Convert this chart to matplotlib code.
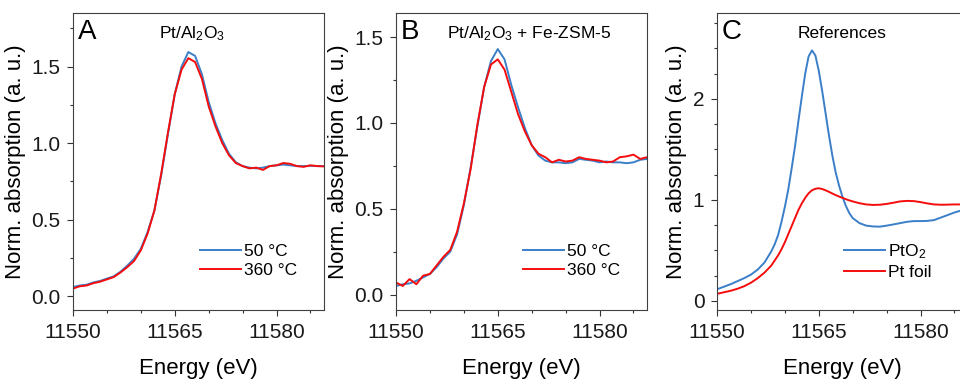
import numpy as np
import matplotlib.pyplot as plt
from matplotlib.ticker import MultipleLocator

plt.rcParams['font.family'] = ['Liberation Sans', 'DejaVu Sans']
plt.rcParams['mathtext.default'] = 'regular'

# energies (eV)
energy_ab = list(range(11550, 11588))
energy_c = list(range(11550, 11558)) + list(np.arange(11558, 11570, 0.5)) + list(range(11570, 11588))

# panel A: Pt/Al2O3
a_50 = [0.06, 0.07, 0.075, 0.09, 0.10, 0.115, 0.13, 0.16, 0.20, 0.245,
        0.31, 0.42, 0.56, 0.79, 1.06, 1.32, 1.50, 1.595, 1.57, 1.45,
        1.27, 1.13, 1.02, 0.93, 0.875, 0.85, 0.84, 0.835, 0.84, 0.85,
        0.855, 0.86, 0.855, 0.85, 0.85, 0.852, 0.85, 0.85]
a_360 = [0.05, 0.065, 0.07, 0.085, 0.095, 0.11, 0.125, 0.155, 0.19, 0.23,
         0.30, 0.41, 0.56, 0.80, 1.07, 1.32, 1.48, 1.555, 1.53, 1.42,
         1.24, 1.11, 1.00, 0.92, 0.87, 0.85, 0.835, 0.84, 0.825, 0.85,
         0.855, 0.87, 0.865, 0.85, 0.845, 0.855, 0.85, 0.848]

# panel B: Pt/Al2O3 + Fe-ZSM-5
b_50 = [0.05, 0.06, 0.065, 0.08, 0.10, 0.12, 0.16, 0.21, 0.25, 0.35,
        0.52, 0.74, 0.98, 1.21, 1.36, 1.43, 1.37, 1.22, 1.09, 0.97,
        0.87, 0.81, 0.78, 0.77, 0.77, 0.765, 0.77, 0.79, 0.785, 0.78,
        0.77, 0.775, 0.77, 0.77, 0.765, 0.77, 0.785, 0.79]
b_360 = [0.07, 0.05, 0.09, 0.06, 0.11, 0.12, 0.17, 0.22, 0.26, 0.365,
         0.53, 0.73, 0.99, 1.21, 1.34, 1.37, 1.31, 1.18, 1.05, 0.95,
         0.87, 0.82, 0.80, 0.77, 0.785, 0.775, 0.78, 0.80, 0.79, 0.785,
         0.78, 0.77, 0.775, 0.80, 0.805, 0.815, 0.79, 0.80]

# panel C: references
pto2 = [0.115, 0.14, 0.165, 0.195, 0.225, 0.26, 0.31, 0.38,
        0.49, 0.56, 0.65, 0.78, 0.93, 1.10, 1.31, 1.53, 1.78, 2.02, 2.25, 2.42,
        2.48, 2.43, 2.28, 2.08, 1.86, 1.64, 1.44, 1.27, 1.14, 1.03, 0.94, 0.87,
        0.82, 0.77, 0.745, 0.737, 0.735, 0.745, 0.757, 0.77, 0.783, 0.79,
        0.79, 0.792, 0.80, 0.825, 0.85, 0.875, 0.895, 0.91]
pt_foil = [0.07, 0.085, 0.10, 0.12, 0.145, 0.18, 0.225, 0.28,
           0.35, 0.40, 0.45, 0.51, 0.58, 0.66, 0.74, 0.82, 0.90, 0.965, 1.02, 1.065,
           1.095, 1.11, 1.115, 1.108, 1.095, 1.08, 1.063, 1.047, 1.033, 1.02, 1.007, 0.995,
           0.985, 0.967, 0.955, 0.95, 0.952, 0.96, 0.972, 0.985, 0.99, 0.988,
           0.978, 0.965, 0.955, 0.952, 0.953, 0.955, 0.955, 0.955]

blue = '#3a7fc8'
red = '#f50d0d'

panels = [
    ('A', 'Pt/Al$_2$O$_3$', 0.476, energy_ab, a_50, a_360, ['50 °C', '360 °C'], (-0.09, 1.85), 0.5, 0.25, '%.1f'),
    ('B', 'Pt/Al$_2$O$_3$ + Fe-ZSM-5', 0.53, energy_ab, b_50, b_360, ['50 °C', '360 °C'], (-0.09, 1.64), 0.5, 0.25, '%.1f'),
    ('C', 'References', 0.50, energy_c, pto2, pt_foil, ['PtO$_2$', 'Pt foil'], (-0.09, 2.85), 1, 0.25, '%d'),
]
lefts = [73, 396, 717]

fig = plt.figure(figsize=(9.6, 3.79), dpi=100)
for (letter, title, tx, en, y1, y2, labels, ylim, major, minor, fmt), left in zip(panels, lefts):
    ax = fig.add_axes([left / 960, 69 / 379, 251 / 960, 297 / 379])
    ax.plot(en, y1, color=blue, lw=1.4, label=labels[0])
    ax.plot(en, y2, color=red, lw=1.4, label=labels[1])
    ax.set_xlim(11550, 11587)
    ax.set_ylim(*ylim)
    ax.xaxis.set_major_locator(MultipleLocator(15))
    ax.xaxis.set_minor_locator(MultipleLocator(5))
    ax.yaxis.set_major_locator(MultipleLocator(major))
    ax.yaxis.set_minor_locator(MultipleLocator(minor))
    ax.yaxis.set_major_formatter(plt.FormatStrFormatter(fmt))
    ax.tick_params(which='both', direction='out', colors='#333333', labelcolor='#1a1a1a',
                   labelsize=15, width=0.8, top=False, right=False)
    ax.tick_params(which='major', length=4.5, pad=4.5)
    ax.tick_params(which='minor', length=2.5)
    for s in ax.spines.values():
        s.set_color('#404040')
        s.set_linewidth(0.8)
    ax.set_xlabel('Energy (eV)', fontsize=16, labelpad=12)
    ax.set_ylabel('Norm. absorption (a. u.)', fontsize=16, labelpad=4)
    ax.text(0.02, 0.98, letter, transform=ax.transAxes, fontsize=20, va='top', ha='left')
    ax.text(tx, 0.93, title, transform=ax.transAxes, fontsize=12.5, va='center', ha='center')
    ax.legend(loc='center left', bbox_to_anchor=(0.505, 0.165), frameon=False, fontsize=12.5,
              handlelength=2.4, handletextpad=0.15, labelspacing=0.2, borderpad=0, borderaxespad=0)

fig.savefig('out.png', dpi=100)
